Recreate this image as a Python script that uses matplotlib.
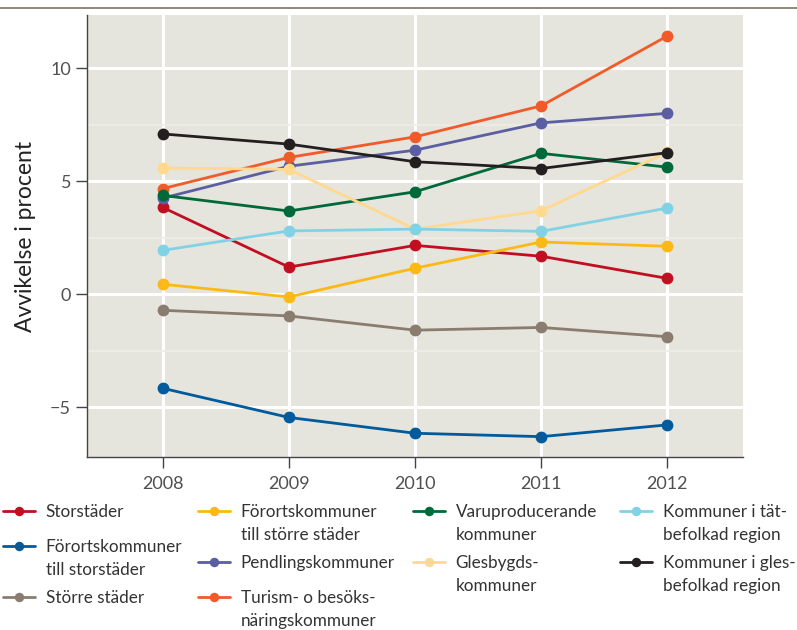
import numpy as np
import matplotlib
matplotlib.use("Agg")
import matplotlib.pyplot as plt
from matplotlib.lines import Line2D

plt.rcParams["font.family"] = ["Lato", "DejaVu Sans"]

# ---- data ----
years = [2008, 2009, 2010, 2011, 2012]

storstader = [3.84, 1.20, 2.16, 1.68, 0.70]
fororts_storstader = [-4.16, -5.45, -6.15, -6.30, -5.78]
storre_stader = [-0.71, -0.96, -1.59, -1.47, -1.88]
fororts_storre = [0.44, -0.12, 1.15, 2.31, 2.12]
pendling = [4.25, 5.66, 6.37, 7.58, 8.00]
turism = [4.67, 6.05, 6.96, 8.33, 11.42]
varuprod = [4.37, 3.68, 4.53, 6.23, 5.62]
glesbygd = [5.58, 5.52, 2.88, 3.69, 6.28]
tatbefolkad = [1.94, 2.80, 2.88, 2.78, 3.81]
glesbefolkad = [7.09, 6.64, 5.86, 5.56, 6.26]

labels = ["Storstäder",
          "Förortskommuner\ntill storstäder",
          "Större städer",
          "Förortskommuner\ntill större städer",
          "Pendlingskommuner",
          "Turism- o besöks-\nnäringskommuner",
          "Varuproducerande\nkommuner",
          "Glesbygds-\nkommuner",
          "Kommuner i tät-\nbefolkad region",
          "Kommuner i gles-\nbefolkad region"]
series = [storstader, fororts_storstader, storre_stader, fororts_storre, pendling,
          turism, varuprod, glesbygd, tatbefolkad, glesbefolkad]
colors = ["#C10E21", "#005A9C", "#8A7D70", "#FDB913", "#5B5EA1",
          "#F15A29", "#00693A", "#FFD98E", "#82D2E5", "#231F20"]

W, H = 797, 630

# ---- figure ----
fig = plt.figure(figsize=(W / 100, H / 100), dpi=100, facecolor="white")
ax = fig.add_axes([87 / W, 1 - 457 / H, 656 / W, 442 / H])
ax.set_facecolor("#E5E4DD")

handles = []
for vals, c, lb in zip(series, colors, labels):
    h, = ax.plot(years, vals, "-o", color=c, lw=2.0, markersize=8.5,
                 markeredgewidth=0, label=lb, solid_capstyle="round")
    handles.append(h)

ax.set_xlim(2007.4, 2012.6)
ax.set_ylim(-7.2, 12.35)
ax.set_xticks(years)
ax.set_yticks([-5, 0, 5, 10])
ax.set_yticklabels(["\u22125", "0", "5", "10"])
ax.set_yticks([-2.5, 2.5, 7.5], minor=True)

ax.grid(True, which="major", color="white", lw=2.2, zorder=0)
ax.grid(True, which="minor", axis="y", color="#EEEDE8", lw=1.2, zorder=0)
ax.set_axisbelow(True)

for s in ["top", "right"]:
    ax.spines[s].set_visible(False)
for s in ["left", "bottom"]:
    ax.spines[s].set_color("#444444")
    ax.spines[s].set_linewidth(1.0)

ax.tick_params(axis="both", which="major", direction="out", length=8, width=1,
               color="#444444", labelsize=13, labelcolor="#505050")
ax.tick_params(axis="y", pad=3.5)
ax.tick_params(axis="x", pad=6)
ax.tick_params(axis="y", which="minor", length=0)
ax.set_ylabel("Avvikelse i procent", fontsize=16.5, color="#222222", labelpad=10)

# rule line on top of the figure
fig.add_artist(Line2D([0, 1], [1 - 8 / H, 1 - 8 / H], transform=fig.transFigure,
                      color="#8A7D70", lw=1.3))

# ---- legend, one entry at a time (irregular grid in the original) ----
# (handle left x, first-line centre y) in pixels
entry_pos = [(3, 512), (3, 547), (3, 598),
             (198, 512), (198, 563), (198, 598),
             (413, 512), (413, 563),
             (620, 512), (620, 563)]
line_step = 23
leg_fs = 12.3
for h, lb, (px, py) in zip(handles, labels, entry_pos):
    lines = lb.split("\n")
    leg = fig.legend([h], [lines[0]], loc="center left",
                     bbox_to_anchor=(px / W, 1 - py / H),
                     frameon=False, fontsize=leg_fs, handlelength=1.9,
                     handletextpad=0.6, borderpad=0, borderaxespad=0,
                     markerscale=0.8)
    leg.get_texts()[0].set_color("#333333")
    fig.canvas.draw()
    tx = leg.get_texts()[0].get_window_extent().x0
    for k, extra in enumerate(lines[1:], start=1):
        fig.text(tx / W, 1 - (py + k * line_step) / H, extra, fontsize=leg_fs,
                 color="#333333", ha="left", va="center")

fig.savefig("out.png", dpi=100, facecolor="white")
